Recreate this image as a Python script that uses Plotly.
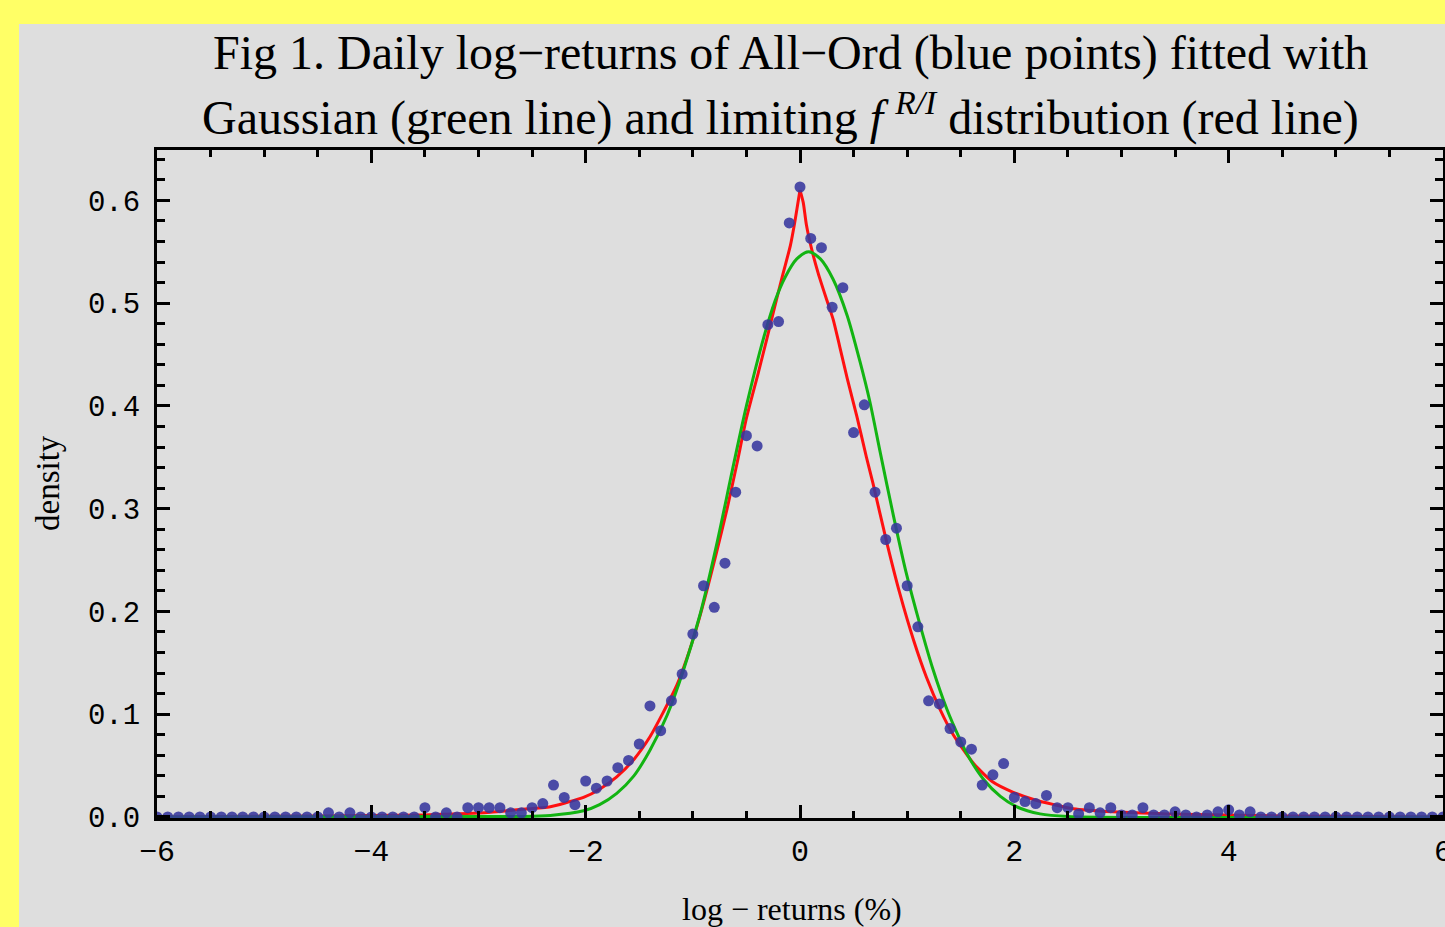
import plotly.graph_objects as go

# ---------------- data ----------------
bin_x = [
    -6.0, -5.9, -5.8, -5.7, -5.6, -5.5, -5.4, -5.3, -5.2, -5.1,
    -5.0, -4.9, -4.8, -4.7, -4.6, -4.5, -4.4, -4.3, -4.2, -4.1,
    -4.0, -3.9, -3.8, -3.7, -3.6, -3.5, -3.4, -3.3, -3.2, -3.1,
    -3.0, -2.9, -2.8, -2.7, -2.6, -2.5, -2.4, -2.3, -2.2, -2.1,
    -2.0, -1.9, -1.8, -1.7, -1.6, -1.5, -1.4, -1.3, -1.2, -1.1,
    -1.0, -0.9, -0.8, -0.7, -0.6, -0.5, -0.4, -0.3, -0.2, -0.1,
    0.0, 0.1, 0.2, 0.3, 0.4, 0.5, 0.6, 0.7, 0.8, 0.9,
    1.0, 1.1, 1.2, 1.3, 1.4, 1.5, 1.6, 1.7, 1.8, 1.9,
    2.0, 2.1, 2.2, 2.3, 2.4, 2.5, 2.6, 2.7, 2.8, 2.9,
    3.0, 3.1, 3.2, 3.3, 3.4, 3.5, 3.6, 3.7, 3.8, 3.9,
    4.0, 4.1, 4.2, 4.3, 4.4, 4.5, 4.6, 4.7, 4.8, 4.9,
    5.0, 5.1, 5.2, 5.3, 5.4, 5.5, 5.6, 5.7, 5.8, 5.9, 6.0,
]
bin_density = [
    0, 0, 0, 0, 0, 0, 0, 0, 0, 0,
    0, 0, 0, 0, 0, 0, 0.004, 0, 0.004, 0,
    0, 0, 0, 0, 0, 0.009, 0, 0.004, 0, 0.009,
    0.009, 0.009, 0.009, 0.004, 0.004, 0.009, 0.013, 0.031, 0.019, 0.012,
    0.035, 0.028, 0.035, 0.048, 0.055, 0.071, 0.108, 0.084, 0.113, 0.139,
    0.178, 0.225, 0.204, 0.247, 0.316, 0.371, 0.361, 0.479, 0.482, 0.578,
    0.613, 0.563, 0.554, 0.496, 0.515, 0.374, 0.401, 0.316, 0.270, 0.281,
    0.225, 0.185, 0.113, 0.110, 0.086, 0.073, 0.066, 0.031, 0.041, 0.052,
    0.019, 0.015, 0.013, 0.021, 0.009, 0.009, 0.003, 0.009, 0.004, 0.009,
    0.002, 0.002, 0.009, 0.002, 0.002, 0.005, 0.002, 0, 0.002, 0.005,
    0.007, 0.002, 0.005, 0, 0, 0, 0, 0, 0, 0,
    0, 0, 0, 0, 0, 0, 0, 0, 0, 0, 0,
]

# red line (limiting f^{R/I}) read at sample points
red_x = [-6.0, -4.5, -3.5, -2.95, -2.64, -2.33, -2.18, -2.02, -1.87, -1.71,
         -1.55, -1.40, -1.28, -1.15, -1.06, -0.96, -0.87, -0.78, -0.68, -0.59,
         -0.50, -0.39, -0.31, -0.23, -0.16, -0.09, -0.05, 0.0,
         0.03, 0.06, 0.11, 0.17, 0.25, 0.31, 0.37, 0.44, 0.53, 0.62,
         0.68, 0.81, 0.93, 1.06, 1.18, 1.31, 1.43, 1.62, 1.80, 1.99,
         2.18, 2.37, 2.55, 2.92, 3.42, 4.5, 6.0]
red_y = [0.0, 0.001, 0.002, 0.004, 0.007, 0.010, 0.014, 0.019, 0.027, 0.039,
         0.056, 0.078, 0.101, 0.128, 0.153, 0.186, 0.220, 0.257, 0.300, 0.343,
         0.388, 0.432, 0.465, 0.499, 0.528, 0.556, 0.578, 0.610,
         0.598, 0.576, 0.552, 0.529, 0.503, 0.484, 0.458, 0.427, 0.390, 0.350,
         0.325, 0.267, 0.218, 0.172, 0.136, 0.104, 0.080, 0.052, 0.034, 0.024,
         0.017, 0.012, 0.008, 0.005, 0.003, 0.001, 0.0]

# green line (Gaussian) read at sample points
green_x = [-6.0, -2.6, -2.33, -2.02, -1.87, -1.71, -1.55, -1.40, -1.24, -1.09,
           -0.93, -0.78, -0.63, -0.50, -0.34, -0.23, -0.14, -0.03, 0.08, 0.19,
           0.31, 0.44, 0.56, 0.65, 0.75, 0.87, 0.99, 1.12, 1.24, 1.37,
           1.49, 1.56, 1.71, 1.87, 2.02, 2.24, 2.5, 6.0]
green_y = [0.0, 0.0005, 0.0015, 0.006, 0.012, 0.023, 0.040, 0.065, 0.099, 0.142,
           0.198, 0.264, 0.338, 0.400, 0.466, 0.503, 0.525, 0.543, 0.550, 0.543,
           0.523, 0.488, 0.443, 0.405, 0.354, 0.294, 0.238, 0.187, 0.144, 0.105,
           0.076, 0.061, 0.037, 0.020, 0.010, 0.003, 0.0005, 0.0]

x_tick_vals = [-6, -4, -2, 0, 2, 4, 6]
x_tick_text = ["\u22126", "\u22124", "\u22122", "0", "2", "4", "6"]
y_tick_vals = [0.0, 0.1, 0.2, 0.3, 0.4, 0.5, 0.6]
y_tick_text = ["0.0", "0.1", "0.2", "0.3", "0.4", "0.5", "0.6"]

title_line1 = "Fig 1. Daily log\u2212returns of All\u2212Ord (blue points) fitted with"
title_line2 = ("Gaussian (green line) and limiting <i>f</i> <sup><i>R/I</i></sup> "
               "distribution (red line)")
x_title = "log \u2212 returns (%)"
y_title = "density"

# ---------------- figure ----------------
W, H = 1445, 927
L, R, T, B = 157, 2, 150, 109
pw, ph = W - L - R, H - T - B


def px(xp):
    return (xp - L) / pw


def py(yp):
    return (H - B - yp) / ph


SERIF = "Liberation Serif, Times New Roman, serif"
MONO = "Liberation Mono, Courier New, monospace"

fig = go.Figure()

# split red line at its cusp so the peak stays sharp
k = red_y.index(max(red_y))
red_line = dict(color="#FF1010", width=3, shape="spline", smoothing=0.6)
fig.add_trace(go.Scatter(x=red_x[:k + 1], y=red_y[:k + 1], mode="lines", line=red_line,
                         hoverinfo="skip", showlegend=False))
fig.add_trace(go.Scatter(x=red_x[k:], y=red_y[k:], mode="lines", line=red_line,
                         hoverinfo="skip", showlegend=False))
fig.add_trace(go.Scatter(x=green_x, y=green_y, mode="lines",
                         line=dict(color="#12B412", width=3, shape="spline", smoothing=0.8),
                         hoverinfo="skip", showlegend=False))
fig.add_trace(go.Scatter(x=bin_x, y=bin_density, mode="markers",
                         marker=dict(symbol="circle", size=11, color="rgba(55,55,158,0.88)",
                                     line=dict(width=0)),
                         showlegend=False))

axis_common = dict(showline=True, linecolor="black", linewidth=3, mirror="allticks",
                   ticks="inside", tickcolor="black", tickwidth=3,
                   showgrid=False, zeroline=False, ticklabeloverflow="allow",
                   automargin=False)

fig.update_xaxes(range=[-6, 6], tickmode="array", tickvals=x_tick_vals, ticktext=x_tick_text,
                 ticklen=13, tickfont=dict(family=MONO, size=30, color="black"),
                 ticklabelstandoff=4,
                 minor=dict(tick0=0, dtick=0.5, ticks="inside", ticklen=7, tickwidth=3,
                            tickcolor="black"),
                 **axis_common)
fig.update_yaxes(range=[-0.001, 0.649], tickmode="array", tickvals=y_tick_vals,
                 ticktext=y_tick_text, ticklen=13,
                 tickfont=dict(family=MONO, size=29, color="black"),
                 ticklabelstandoff=8,
                 minor=dict(tick0=0, dtick=0.02, ticks="inside", ticklen=8, tickwidth=3,
                            tickcolor="black"),
                 **axis_common)

fig.add_shape(type="rect", xref="paper", yref="paper",
              x0=px(19), x1=px(W + 5), y0=py(H + 5), y1=py(24),
              fillcolor="#DEDEDE", line=dict(width=0), layer="below")

anns = [
    dict(text=title_line1, x=px(790), y=py(53), font=dict(family=SERIF, size=48, color="black")),
    dict(text=title_line2, x=px(780), y=py(115), font=dict(family=SERIF, size=48, color="black")),
    dict(text=x_title, x=px(792), y=py(909), font=dict(family=SERIF, size=32, color="black")),
    dict(text=y_title, x=px(48), y=py(483), textangle=-90,
         font=dict(family=SERIF, size=33, color="black")),
]
for a in anns:
    fig.add_annotation(xref="paper", yref="paper", showarrow=False,
                       xanchor="center", yanchor="middle", **a)

fig.update_layout(width=W, height=H, autosize=False,
                  margin=dict(l=L, r=R, t=T, b=B, pad=0, autoexpand=False),
                  paper_bgcolor="#FFFF66", plot_bgcolor="#DEDEDE",
                  showlegend=False)

fig.write_html("out.html")
